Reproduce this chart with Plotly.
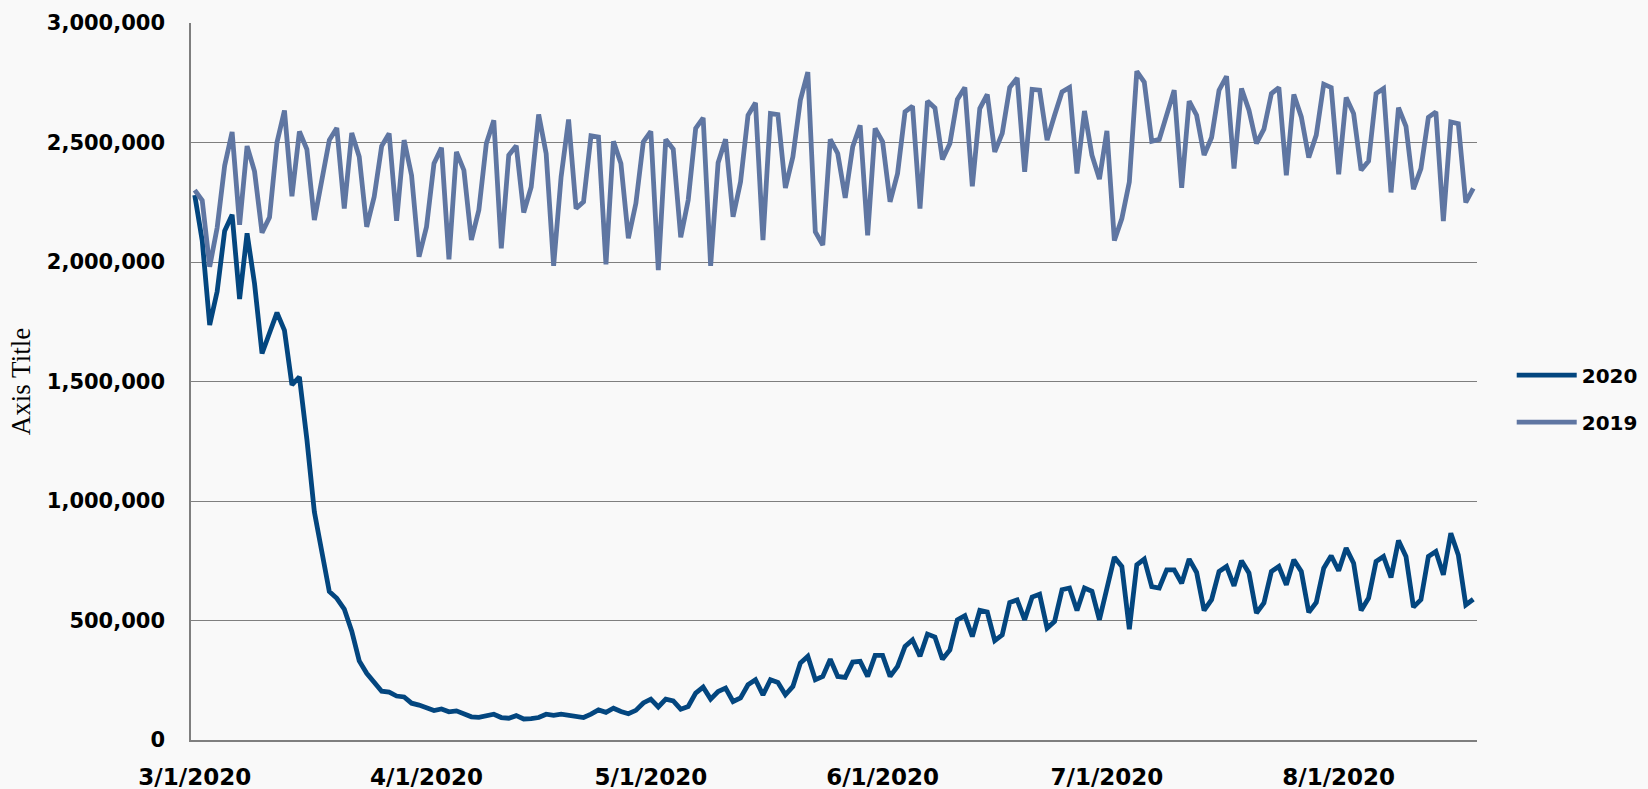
import pandas as pd
import plotly.graph_objects as go

start_date = "2020-03-01"

values_2020 = [
    2280000, 2090000, 1736000, 1877000, 2130000, 2198000, 1845000, 2120000, 1909000, 1617000,
    1703000, 1788000, 1714000, 1486000, 1519000, 1258000, 954000, 780000, 621000, 593000,
    548000, 455000, 331000, 279000, 239000, 204000, 200000, 184000, 180000, 154000,
    146000, 136000, 123000, 130000, 118000, 122000, 109000, 97000, 95000, 104000,
    108000, 94000, 91000, 102000, 88000, 89000, 94000, 108000, 103000, 108000,
    103000, 94000, 94000, 108000, 126000, 116000, 133000, 119000, 110000, 124000,
    155000, 171000, 138000, 171000, 164000, 129000, 140000, 196000, 221000, 171000,
    203000, 217000, 161000, 176000, 231000, 252000, 189000, 252000, 241000, 189000,
    224000, 322000, 350000, 252000, 266000, 338000, 266000, 262000, 326000, 329000,
    266000, 354000, 354000, 266000, 308000, 392000, 419000, 350000, 443000, 431000,
    338000, 377000, 503000, 520000, 433000, 542000, 535000, 416000, 440000, 575000,
    586000, 503000, 598000, 610000, 468000, 496000, 629000, 636000, 542000, 636000,
    622000, 503000, 640000, 765000, 726000, 464000, 733000, 757000, 642000, 636000,
    712000, 712000, 656000, 757000, 701000, 542000, 587000, 705000, 726000, 645000,
    750000, 699000, 531000, 573000, 705000, 726000, 649000, 754000, 705000, 534000,
    575000, 719000, 771000, 708000, 803000, 740000, 542000, 594000, 747000, 768000,
    680000, 835000, 768000, 556000, 587000, 768000, 789000, 691000, 865000, 774000,
    565000, 589000,
]

values_2019 = [
    2301000, 2258000, 1980000, 2144000, 2403000, 2544000, 2156000, 2485000, 2379000, 2123000,
    2187000, 2500000, 2634000, 2275000, 2546000, 2471000, 2176000, 2335000, 2510000, 2561000,
    2224000, 2540000, 2440000, 2147000, 2273000, 2485000, 2538000, 2172000, 2510000, 2363000,
    2022000, 2147000, 2412000, 2478000, 2011000, 2461000, 2384000, 2092000, 2217000, 2496000,
    2593000, 2057000, 2447000, 2486000, 2207000, 2314000, 2617000, 2454000, 1984000, 2356000,
    2596000, 2224000, 2252000, 2528000, 2523000, 1990000, 2505000, 2412000, 2099000, 2245000,
    2503000, 2547000, 1966000, 2513000, 2472000, 2103000, 2259000, 2559000, 2603000, 1984000,
    2415000, 2514000, 2189000, 2335000, 2614000, 2666000, 2092000, 2621000, 2617000, 2310000,
    2440000, 2677000, 2795000, 2126000, 2071000, 2513000, 2454000, 2268000, 2482000, 2572000,
    2112000, 2559000, 2503000, 2252000, 2370000, 2628000, 2652000, 2224000, 2673000, 2645000,
    2429000, 2496000, 2680000, 2730000, 2317000, 2642000, 2701000, 2461000, 2538000, 2730000,
    2770000, 2377000, 2722000, 2719000, 2510000, 2614000, 2712000, 2730000, 2370000, 2632000,
    2447000, 2347000, 2549000, 2090000, 2182000, 2335000, 2798000, 2753000, 2505000, 2513000,
    2614000, 2719000, 2310000, 2673000, 2614000, 2447000, 2521000, 2719000, 2777000, 2391000,
    2726000, 2635000, 2496000, 2556000, 2705000, 2730000, 2363000, 2701000, 2607000, 2437000,
    2531000, 2744000, 2730000, 2367000, 2688000, 2621000, 2384000, 2422000, 2705000, 2726000,
    2291000, 2646000, 2568000, 2305000, 2391000, 2605000, 2628000, 2171000, 2586000, 2579000,
    2249000, 2308000,
]

dates = pd.date_range(start_date, periods=len(values_2020), freq="D")

tick_dates = ["2020-03-01", "2020-04-01", "2020-05-01", "2020-06-01", "2020-07-01", "2020-08-01"]
tick_labels = ["3/1/2020", "4/1/2020", "5/1/2020", "6/1/2020", "7/1/2020", "8/1/2020"]

series_names = ["2020", "2019"]
series_colors = ["#03467f", "#5f76a2"]

bg = "#f9f9f9"
x_label_font = dict(family="DejaVu Sans", size=23, color="#000000", weight="bold")
y_label_font = dict(family="DejaVu Sans", size=21, color="#000000", weight="bold")

fig = go.Figure()
for name, vals, col in zip(series_names, [values_2020, values_2019], series_colors):
    fig.add_trace(go.Scatter(
        x=dates, y=vals, name=name, mode="lines", legendgroup=name,
        line=dict(color=col, width=4.8),
    ))

x_start = dates[0] - pd.Timedelta(hours=12)
x_end = dates[-1] + pd.Timedelta(hours=12)

fig.update_layout(
    width=1648, height=789,
    margin=dict(l=191, r=171, t=23, b=49, autoexpand=False),
    paper_bgcolor=bg,
    plot_bgcolor=bg,
    font=dict(family="DejaVu Sans", color="#000000"),
    showlegend=True,
    legend=dict(
        x=1.027, y=0.476, xanchor="left", yanchor="middle",
        font=dict(family="DejaVu Sans", size=20, color="#000000", weight="bold"),
        bgcolor="rgba(0,0,0,0)", itemwidth=60,
        traceorder="grouped", tracegroupgap=18,
    ),
    xaxis=dict(
        type="date", range=[x_start, x_end], automargin=False,
        tickmode="array", tickvals=tick_dates, ticktext=tick_labels,
        tickfont=x_label_font,
        showgrid=False, showline=True, linecolor="#7f7f7f", linewidth=1.5,
        ticks="", ticklabelstandoff=16, zeroline=False,
    ),
    yaxis=dict(
        range=[0, 3000000], dtick=500000, tickformat=",d", automargin=False,
        tickfont=y_label_font,
        showgrid=True, gridcolor="#7f7f7f", gridwidth=1.3,
        showline=True, linecolor="#7f7f7f", linewidth=1.5,
        ticks="", ticklabelstandoff=20, zeroline=False,
        title=dict(text="Axis Title", font=dict(family="Liberation Serif", size=27, color="#000000"), standoff=8),
    ),
)

fig.write_html(
    "out.html",
    config={"displayModeBar": False},
    post_script="document.body.style.margin='0';document.body.style.background='%s';" % bg,
)
